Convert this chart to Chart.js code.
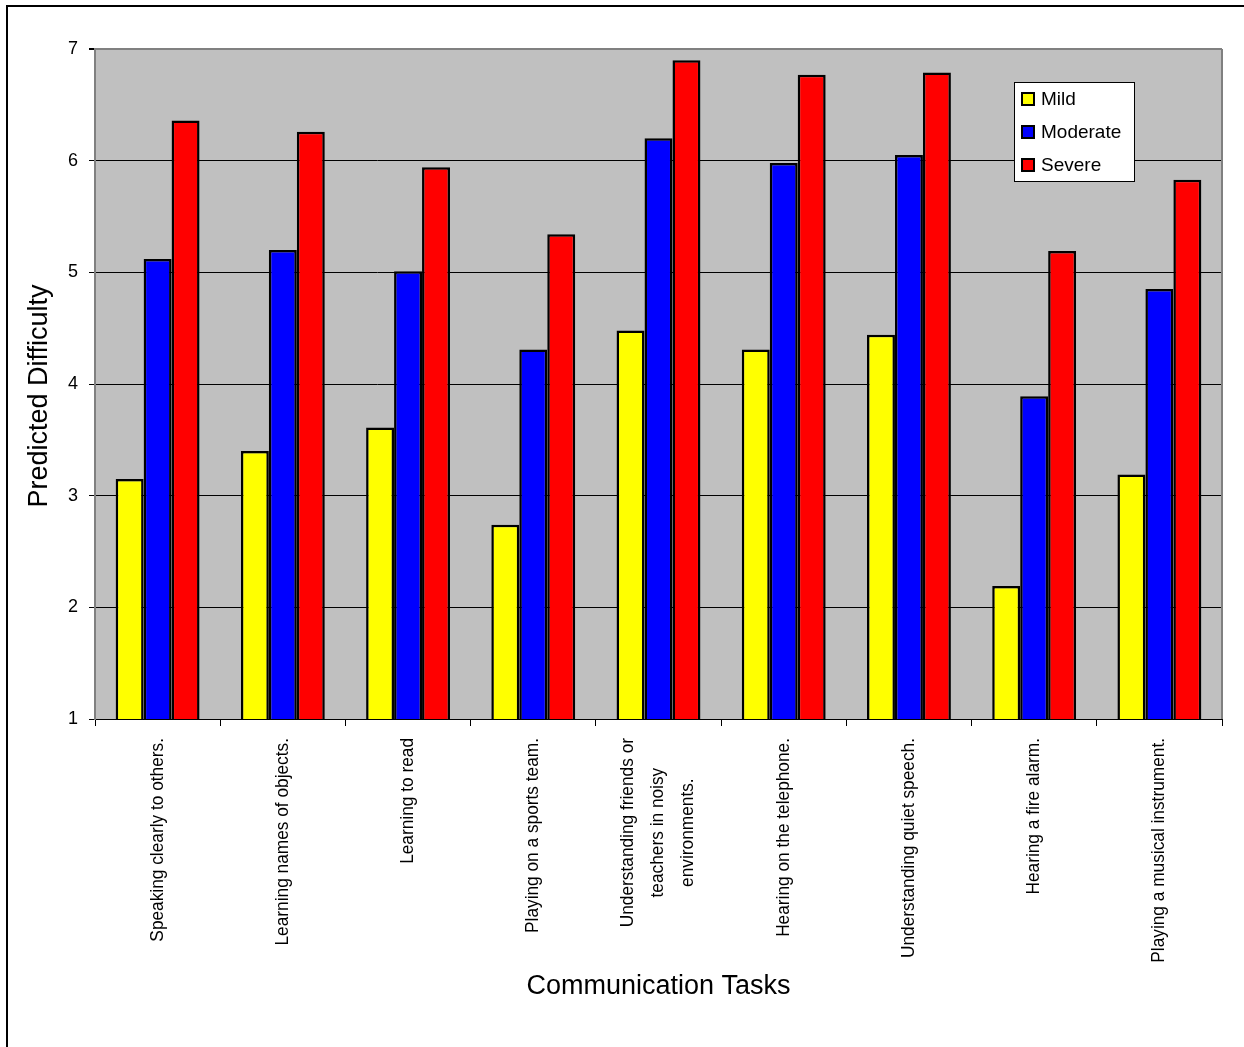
<!DOCTYPE html>
<html>
<head>
<meta charset="utf-8">
<script src="https://cdn.jsdelivr.net/npm/chart.js@4.4.0/dist/chart.umd.min.js"></script>
<style>
html, body { margin: 0; padding: 0; background: #fff; }
</style>
</head>
<body>
<canvas id="grafico" width="1244" height="1047"></canvas>
<script>
// data
var tasks = ['Speaking clearly to others.', 'Learning names of objects.', 'Learning to read', 'Playing on a sports team.',
    ['Understanding friends or', 'teachers in noisy', 'environments.'], 'Hearing on the telephone.',
    'Understanding quiet speech.', 'Hearing a fire alarm.', 'Playing a musical instrument.'];
var mild = [3.15, 3.40, 3.61, 2.74, 4.48, 4.31, 4.44, 2.19, 3.19];
var moderate = [5.12, 5.20, 5.01, 4.31, 6.20, 5.98, 6.05, 3.89, 4.85];
var severe = [6.36, 6.26, 5.94, 5.34, 6.90, 6.77, 6.79, 5.19, 5.83];
var seriesNames = ['Mild', 'Moderate', 'Severe'];
var seriesColors = ['#FFFF00', '#0000FF', '#FF0000'];
var yMin = 1, yMax = 7;
var yTitle = 'Predicted Difficulty';
var xTitle = 'Communication Tasks';

Chart.defaults.font.family = '"Liberation Sans", Arial, sans-serif';
Chart.defaults.color = '#000';

var sfondo = {
    id: 'sfondo',
    beforeDraw: function (chart) {
        var ctx = chart.ctx, a = chart.chartArea;
        ctx.save();
        ctx.fillStyle = '#fff';
        ctx.fillRect(0, 0, chart.width, chart.height);
        ctx.fillStyle = '#C0C0C0';
        ctx.fillRect(a.left, a.top, a.right - a.left, a.bottom - a.top);
        // outer frame (only top and left are visible)
        ctx.fillStyle = '#000';
        ctx.fillRect(6, 5, chart.width - 6, 2);
        ctx.fillRect(6, 5, 2, chart.height - 5);
        ctx.restore();
    },
    afterDraw: function (chart) {
        var ctx = chart.ctx, a = chart.chartArea, xs = chart.scales.x;
        ctx.save();
        // right edge of plot
        ctx.strokeStyle = '#808080';
        ctx.lineWidth = 2;
        ctx.beginPath();
        ctx.moveTo(a.right, a.top);
        ctx.lineTo(a.right, a.bottom);
        ctx.stroke();

        // y title
        ctx.fillStyle = '#000';
        ctx.font = '27px "Liberation Sans", Arial, sans-serif';
        ctx.textAlign = 'center';
        ctx.textBaseline = 'middle';
        ctx.save();
        ctx.translate(40, (a.top + a.bottom) / 2 + 12);
        ctx.rotate(-Math.PI / 2);
        ctx.fillText(yTitle, 0, 0);
        ctx.restore();

        // category labels, rotated, lines centred, a bit condensed
        ctx.font = '18px "Liberation Sans", Arial, sans-serif';
        for (var i = 0; i < tasks.length; i++) {
            var lines = Array.isArray(tasks[i]) ? tasks[i] : [tasks[i]];
            var w = 0;
            for (var j = 0; j < lines.length; j++) {
                w = Math.max(w, ctx.measureText(lines[j]).width);
            }
            var sq = 0.96;
            ctx.save();
            ctx.translate(xs.getPixelForValue(i), xs.top + 19 + w * sq / 2);
            ctx.rotate(-Math.PI / 2);
            ctx.scale(sq, 1);
            for (var j = 0; j < lines.length; j++) {
                ctx.fillText(lines[j], 0, (j - (lines.length - 1) / 2) * 30);
            }
            ctx.restore();
        }

        // legend box
        var lx = a.right - 208, ly = a.top + 33;
        ctx.fillStyle = '#fff';
        ctx.fillRect(lx, ly, 120, 99);
        ctx.strokeStyle = '#000';
        ctx.lineWidth = 1;
        ctx.strokeRect(lx + 0.5, ly + 0.5, 120, 99);
        ctx.font = '19px "Liberation Sans", Arial, sans-serif';
        ctx.textAlign = 'left';
        for (var k = 0; k < seriesNames.length; k++) {
            var cy = ly + 17 + k * 33;
            ctx.fillStyle = seriesColors[k];
            ctx.fillRect(lx + 7, cy - 7, 14, 14);
            ctx.lineWidth = 2;
            ctx.strokeRect(lx + 8, cy - 6, 12, 12);
            ctx.fillStyle = '#000';
            ctx.fillText(seriesNames[k], lx + 27, cy + 1);
        }
        ctx.restore();
    }
};

var datasets = [mild, moderate, severe].map(function (vals, i) {
    return {
        label: seriesNames[i],
        data: vals,
        backgroundColor: seriesColors[i],
        borderColor: '#000',
        borderWidth: 2.5,
        borderSkipped: false
    };
});

var chart = new Chart(document.getElementById('grafico'), {
    type: 'bar',
    data: { labels: tasks, datasets: datasets },
    plugins: [sfondo],
    options: {
        responsive: false,
        animation: false,
        devicePixelRatio: 1,
        categoryPercentage: 0.67,
        barPercentage: 1,
        layout: { padding: { left: 0, top: 49, right: 22, bottom: 0 } },
        plugins: { legend: { display: false }, tooltip: { enabled: false } },
        scales: {
            x: {
                afterFit: function (s) { s.height = 328; },
                grid: { offset: true, drawOnChartArea: false, color: '#000', tickLength: 7 },
                border: { color: '#000', width: 1 },
                ticks: { callback: function () { return ''; } },
                title: {
                    display: true, text: xTitle,
                    font: { size: 27 }, padding: { top: 0, bottom: 44 }
                }
            },
            y: {
                min: yMin, max: yMax,
                afterFit: function (s) { s.width = 95; },
                ticks: { stepSize: 1, font: { size: 18 }, padding: 11 },
                grid: {
                    tickLength: 6,
                    tickColor: '#000',
                    color: function (c) { return c.tick && c.tick.value === yMax ? '#808080' : '#000'; },
                    lineWidth: function (c) { return c.tick && c.tick.value === yMax ? 2 : 1; }
                },
                border: { color: '#808080', width: 2 }
            }
        }
    }
});
</script>
</body>
</html>
